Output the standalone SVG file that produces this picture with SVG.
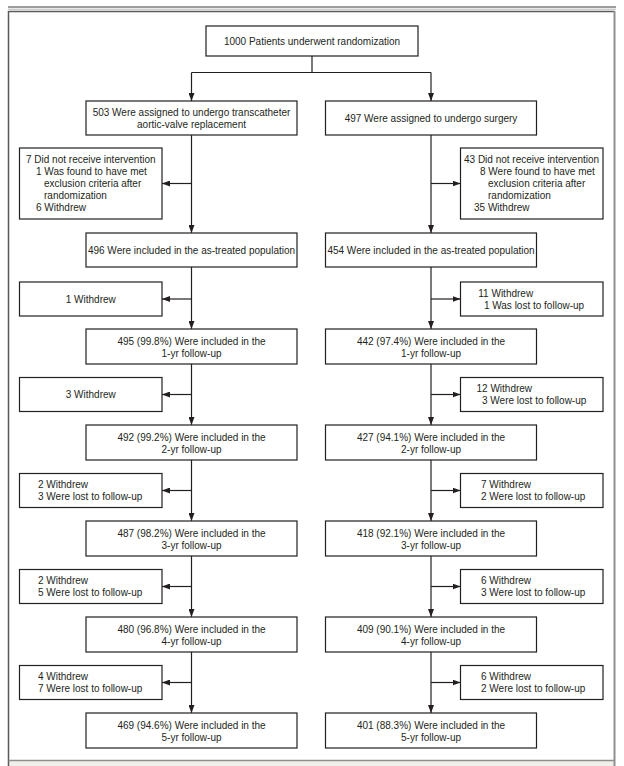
<svg xmlns="http://www.w3.org/2000/svg" width="624" height="766" viewBox="0 0 624 766">
<defs>
<style>
.box{fill:#fff;stroke:#231f20;stroke-width:1.2}
.t{font-family:"Liberation Sans",Arial,sans-serif;font-size:10px;fill:#231f20}
.c{text-anchor:middle}
.ln{stroke:#231f20;stroke-width:1.2;fill:none}
</style>
<marker id="ah" viewBox="0 0 8 6" refX="8" refY="3" markerWidth="8" markerHeight="6" markerUnits="userSpaceOnUse" orient="auto">
<path d="M0,0 L8,3 L0,6 Z" fill="#231f20"/>
</marker>
</defs>
<rect x="0" y="0" width="624" height="766" fill="#fff"/>
<g id="frame">
<line x1="8" y1="7" x2="616" y2="7" stroke="#7d7d7d" stroke-width="1.3"/>
<line x1="8" y1="9.2" x2="616" y2="9.2" stroke="#b5b5b5" stroke-width="1"/>
<rect x="8.5" y="760.5" width="606" height="6" fill="#f1efe9"/>
<line x1="8.5" y1="11.5" x2="614.5" y2="11.5" stroke="#5a5a5a" stroke-width="1.3"/>
<line x1="8.5" y1="11" x2="8.5" y2="766" stroke="#5a5a5a" stroke-width="1.5"/>
<line x1="614.5" y1="11" x2="614.5" y2="766" stroke="#8f8f8f" stroke-width="2"/>
<line x1="8.5" y1="760.5" x2="614.5" y2="760.5" stroke="#8f8f8f" stroke-width="1.3"/>
</g>
<g id="connectors">
<path class="ln" d="M312,56 V72.5 M191.5,72.5 H431"/>
<path class="ln" d="M191.5,72.5 V101" marker-end="url(#ah)"/>
<path class="ln" d="M431,72.5 V101" marker-end="url(#ah)"/>
<path class="ln" d="M191.5,135 V233" marker-end="url(#ah)"/>
<path class="ln" d="M431,135 V233" marker-end="url(#ah)"/>
<path class="ln" d="M191.5,183.5 H162" marker-end="url(#ah)"/>
<path class="ln" d="M431,183.5 H460.5" marker-end="url(#ah)"/>
<path class="ln" d="M191.5,267 V329" marker-end="url(#ah)"/>
<path class="ln" d="M431,267 V329" marker-end="url(#ah)"/>
<path class="ln" d="M191.5,299 H162" marker-end="url(#ah)"/>
<path class="ln" d="M431,299 H460.5" marker-end="url(#ah)"/>
<path class="ln" d="M191.5,364 V425" marker-end="url(#ah)"/>
<path class="ln" d="M431,364 V425" marker-end="url(#ah)"/>
<path class="ln" d="M191.5,394.5 H162" marker-end="url(#ah)"/>
<path class="ln" d="M431,394.5 H460.5" marker-end="url(#ah)"/>
<path class="ln" d="M191.5,460 V521" marker-end="url(#ah)"/>
<path class="ln" d="M431,460 V521" marker-end="url(#ah)"/>
<path class="ln" d="M191.5,490.5 H162" marker-end="url(#ah)"/>
<path class="ln" d="M431,490.5 H460.5" marker-end="url(#ah)"/>
<path class="ln" d="M191.5,556 V617" marker-end="url(#ah)"/>
<path class="ln" d="M431,556 V617" marker-end="url(#ah)"/>
<path class="ln" d="M191.5,586.5 H162" marker-end="url(#ah)"/>
<path class="ln" d="M431,586.5 H460.5" marker-end="url(#ah)"/>
<path class="ln" d="M191.5,652 V713" marker-end="url(#ah)"/>
<path class="ln" d="M431,652 V713" marker-end="url(#ah)"/>
<path class="ln" d="M191.5,682.5 H162" marker-end="url(#ah)"/>
<path class="ln" d="M431,682.5 H460.5" marker-end="url(#ah)"/>
</g>
<g id="n-random">
<rect class="box" x="206" y="26" width="212" height="30"/>
<text class="t c" x="312" y="44.5">1000 Patients underwent randomization</text>
</g>
<g id="n-tavr">
<rect class="box" x="86" y="101" width="211" height="34"/>
<text class="t c" x="191.5" y="115.5">503 Were assigned to undergo transcatheter</text>
<text class="t c" x="191.5" y="127.5">aortic-valve replacement</text>
</g>
<g id="n-surg">
<rect class="box" x="325.5" y="101" width="211" height="34"/>
<text class="t c" x="431" y="121.5">497 Were assigned to undergo surgery</text>
</g>
<g id="n-excl-l">
<rect class="box" x="19.5" y="148" width="142.5" height="71"/>
<text class="t" x="26" y="162.5">7 Did not receive intervention</text>
<text class="t" x="36" y="174.5">1 Was found to have met</text>
<text class="t" x="44" y="186.5">exclusion criteria after</text>
<text class="t" x="44" y="198.5">randomization</text>
<text class="t" x="36" y="210.5">6 Withdrew</text>
</g>
<g id="n-excl-r">
<rect class="box" x="460.5" y="148" width="142.5" height="71"/>
<text class="t" x="464" y="162.5">43 Did not receive intervention</text>
<text class="t" x="480" y="174.5">8 Were found to have met</text>
<text class="t" x="488" y="186.5">exclusion criteria after</text>
<text class="t" x="488" y="198.5">randomization</text>
<text class="t" x="474" y="210.5">35 Withdrew</text>
</g>
<g id="n-at-l">
<rect class="box" x="86" y="233" width="211" height="34"/>
<text class="t c" x="191.5" y="253.5">496 Were included in the as-treated population</text>
</g>
<g id="n-at-r">
<rect class="box" x="325.5" y="233" width="211" height="34"/>
<text class="t c" x="431" y="253.5">454 Were included in the as-treated population</text>
</g>
<g id="n-s1-l">
<rect class="box" x="19.5" y="282" width="142.5" height="34"/>
<text class="t c" x="90.75" y="302.5">1 Withdrew</text>
</g>
<g id="n-s1-r">
<rect class="box" x="460.5" y="282" width="142.5" height="34"/>
<text class="t" x="478.3" y="296.5">11 Withdrew</text>
<text class="t" x="483.9" y="308.5">1 Was lost to follow-up</text>
</g>
<g id="n-y1-l">
<rect class="box" x="86" y="329" width="211" height="35"/>
<text class="t c" x="191.5" y="344.5">495 (99.8%) Were included in the</text>
<text class="t c" x="191.5" y="356.5">1-yr follow-up</text>
</g>
<g id="n-y1-r">
<rect class="box" x="325.5" y="329" width="211" height="35"/>
<text class="t c" x="431" y="344.5">442 (97.4%) Were included in the</text>
<text class="t c" x="431" y="356.5">1-yr follow-up</text>
</g>
<g id="n-s2-l">
<rect class="box" x="19.5" y="377.5" width="142.5" height="34"/>
<text class="t c" x="90.75" y="398">3 Withdrew</text>
</g>
<g id="n-s2-r">
<rect class="box" x="460.5" y="377.5" width="142.5" height="34"/>
<text class="t" x="476.5" y="392">12 Withdrew</text>
<text class="t" x="482" y="404">3 Were lost to follow-up</text>
</g>
<g id="n-y2-l">
<rect class="box" x="86" y="425" width="211" height="35"/>
<text class="t c" x="191.5" y="440.5">492 (99.2%) Were included in the</text>
<text class="t c" x="191.5" y="452.5">2-yr follow-up</text>
</g>
<g id="n-y2-r">
<rect class="box" x="325.5" y="425" width="211" height="35"/>
<text class="t c" x="431" y="440.5">427 (94.1%) Were included in the</text>
<text class="t c" x="431" y="452.5">2-yr follow-up</text>
</g>
<g id="n-s3-l">
<rect class="box" x="19.5" y="473.5" width="142.5" height="34"/>
<text class="t" x="38" y="488">2 Withdrew</text>
<text class="t" x="38" y="500">3 Were lost to follow-up</text>
</g>
<g id="n-s3-r">
<rect class="box" x="460.5" y="473.5" width="142.5" height="34"/>
<text class="t" x="481" y="488">7 Withdrew</text>
<text class="t" x="481" y="500">2 Were lost to follow-up</text>
</g>
<g id="n-y3-l">
<rect class="box" x="86" y="521" width="211" height="35"/>
<text class="t c" x="191.5" y="536.5">487 (98.2%) Were included in the</text>
<text class="t c" x="191.5" y="548.5">3-yr follow-up</text>
</g>
<g id="n-y3-r">
<rect class="box" x="325.5" y="521" width="211" height="35"/>
<text class="t c" x="431" y="536.5">418 (92.1%) Were included in the</text>
<text class="t c" x="431" y="548.5">3-yr follow-up</text>
</g>
<g id="n-s4-l">
<rect class="box" x="19.5" y="569.5" width="142.5" height="34"/>
<text class="t" x="38" y="584">2 Withdrew</text>
<text class="t" x="38" y="596">5 Were lost to follow-up</text>
</g>
<g id="n-s4-r">
<rect class="box" x="460.5" y="569.5" width="142.5" height="34"/>
<text class="t" x="481" y="584">6 Withdrew</text>
<text class="t" x="481" y="596">3 Were lost to follow-up</text>
</g>
<g id="n-y4-l">
<rect class="box" x="86" y="617" width="211" height="35"/>
<text class="t c" x="191.5" y="632.5">480 (96.8%) Were included in the</text>
<text class="t c" x="191.5" y="644.5">4-yr follow-up</text>
</g>
<g id="n-y4-r">
<rect class="box" x="325.5" y="617" width="211" height="35"/>
<text class="t c" x="431" y="632.5">409 (90.1%) Were included in the</text>
<text class="t c" x="431" y="644.5">4-yr follow-up</text>
</g>
<g id="n-s5-l">
<rect class="box" x="19.5" y="665.5" width="142.5" height="34"/>
<text class="t" x="38" y="680">4 Withdrew</text>
<text class="t" x="38" y="692">7 Were lost to follow-up</text>
</g>
<g id="n-s5-r">
<rect class="box" x="460.5" y="665.5" width="142.5" height="34"/>
<text class="t" x="481" y="680">6 Withdrew</text>
<text class="t" x="481" y="692">2 Were lost to follow-up</text>
</g>
<g id="n-y5-l">
<rect class="box" x="86" y="713" width="211" height="35"/>
<text class="t c" x="191.5" y="728.5">469 (94.6%) Were included in the</text>
<text class="t c" x="191.5" y="740.5">5-yr follow-up</text>
</g>
<g id="n-y5-r">
<rect class="box" x="325.5" y="713" width="211" height="35"/>
<text class="t c" x="431" y="728.5">401 (88.3%) Were included in the</text>
<text class="t c" x="431" y="740.5">5-yr follow-up</text>
</g>
</svg>
